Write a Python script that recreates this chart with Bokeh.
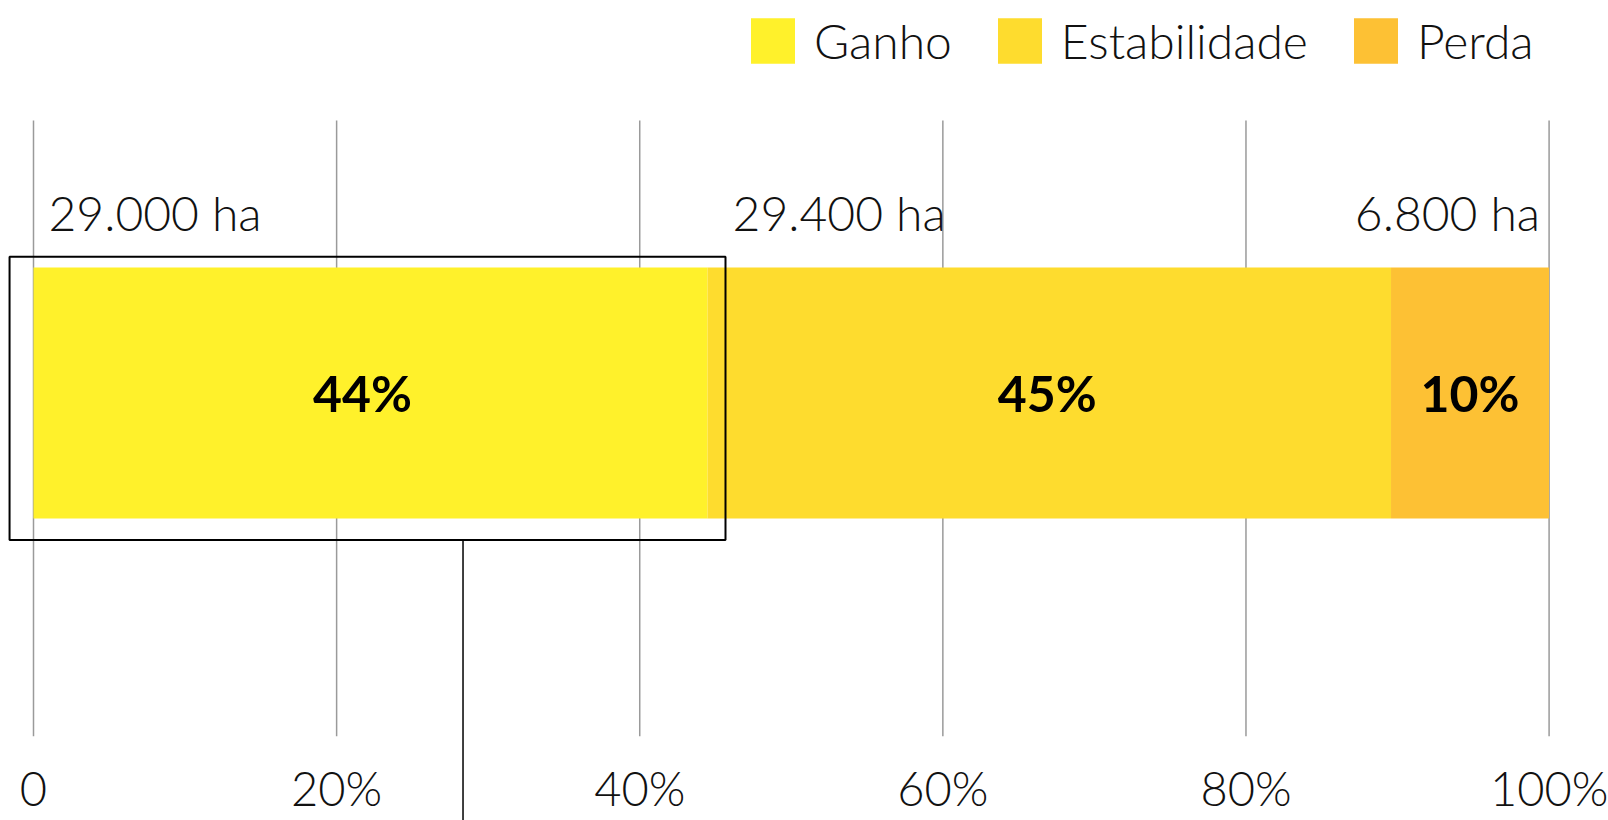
from bokeh.plotting import figure
from bokeh.models import ColumnDataSource, Range1d, FixedTicker, Legend, LegendItem
from bokeh.core.properties import value
from bokeh.embed import file_html
from bokeh.resources import INLINE

# ---- data ----
categories = ["Ganho", "Estabilidade", "Perda"]
hectares = [29000, 29400, 6800]
colors = ["#FFF12B", "#FEDC2E", "#FDC134"]
tick_values = [0, 20, 40, 60, 80, 100]
tick_labels = ["0", "20%", "40%", "60%", "80%", "100%"]

total = sum(hectares)
shares = [h / total * 100 for h in hectares]
lefts, acc = [], 0.0
for s in shares:
    lefts.append(acc)
    acc += s
rights = [l + s for l, s in zip(lefts, shares)]
mids = [(l + r) / 2 for l, r in zip(lefts, rights)]
pct_labels = [f"{round(s)}%" for s in shares]
ha_labels = [f"{h:,}".replace(",", ".") + " ha" for h in hectares]

# ---- layout / style constants ----
LIGHT = "Lato Light"
BAR_Y, BAR_H = 55.77, 40.75
BAR_TOP = BAR_Y + BAR_H / 2
GRID_TOP = 100  # plotting band (gridlines) spans 0..100 in y; above it: legend room

p = figure(width=1608, height=820, x_range=Range1d(-2.1775, 103.92), y_range=Range1d(0, 119.48),
           output_backend="svg", toolbar_location=None, y_axis_location=None,
           min_border_left=0, min_border_right=0, min_border_top=0, min_border_bottom=84)
p.outline_line_color = None
p.background_fill_color = "white"
p.border_fill_color = "white"

# vertical gridlines at the tick positions
p.segment(x0=tick_values, y0=0, x1=tick_values, y1=GRID_TOP, line_color="#9a9a9a",
          line_width=1.5, level="underlay")

src = ColumnDataSource(dict(cat=categories, left=lefts, right=rights, color=colors,
                            mid=mids, pct=pct_labels, dx=[-8, -2, 0]))
bars = p.hbar(y=BAR_Y, height=BAR_H, left="left", right="right", fill_color="color",
              line_color=None, source=src)

# percentage labels inside bars
p.text(x="mid", y=BAR_Y, text="pct", source=src, x_offset="dx", text_font=value("Lato"),
       text_font_style="bold", text_font_size="50px", text_color="#000000",
       text_align="center", text_baseline="middle", level="overlay")

# hectare labels above bars
aligns = ["left", "left", "right"]
offsets = [15, 25, -9]
for i, lab in enumerate(ha_labels):
    ax = lefts[i] if aligns[i] == "left" else rights[i]
    p.text(x=[ax], y=[BAR_TOP], text=[lab], text_font=value(LIGHT), text_font_size="48px",
           text_color="#111111", text_align=aligns[i], text_baseline="alphabetic",
           x_offset=offsets[i], y_offset=-55, level="overlay")

# callout box around the "Ganho" segment and its leader line
box_left = lefts[0] - 1.58
box_right = rights[0] + 1.18
p.quad(left=[box_left], right=[box_right], top=[77.9], bottom=[31.9], fill_color=None,
       line_color="#000000", line_width=2, level="overlay")
p.segment(x0=[28.34], y0=[31.9], x1=[28.34], y1=[-20], line_color="#000000",
          line_width=1.5, level="overlay")

# axis
p.xaxis.ticker = FixedTicker(ticks=tick_values)
p.xaxis.major_label_overrides = {v: l for v, l in zip(tick_values, tick_labels)}
p.xaxis.axis_line_color = None
p.xaxis.major_tick_line_color = None
p.xaxis.minor_tick_line_color = None
p.xaxis.major_tick_out = 0
p.xaxis.major_tick_in = 0
p.xaxis.major_label_standoff = 23
p.xaxis.major_label_text_font = LIGHT
p.xaxis.major_label_text_font_size = "47px"
p.xaxis.major_label_text_color = "#111111"
p.xgrid.grid_line_color = None
p.ygrid.grid_line_color = None

legend = Legend(items=[LegendItem(label=c, renderers=[bars], index=i)
                       for i, c in enumerate(categories)],
                orientation="horizontal", location=(745, 667),
                label_text_font=LIGHT, label_text_font_size="48px",
                label_text_color="#111111", glyph_width=55, glyph_height=57,
                label_height=57, label_standoff=14, spacing=40, padding=0, margin=0,
                border_line_alpha=0, background_fill_alpha=0)
p.add_layout(legend)

open("out.html", "w").write(file_html(p, INLINE))
